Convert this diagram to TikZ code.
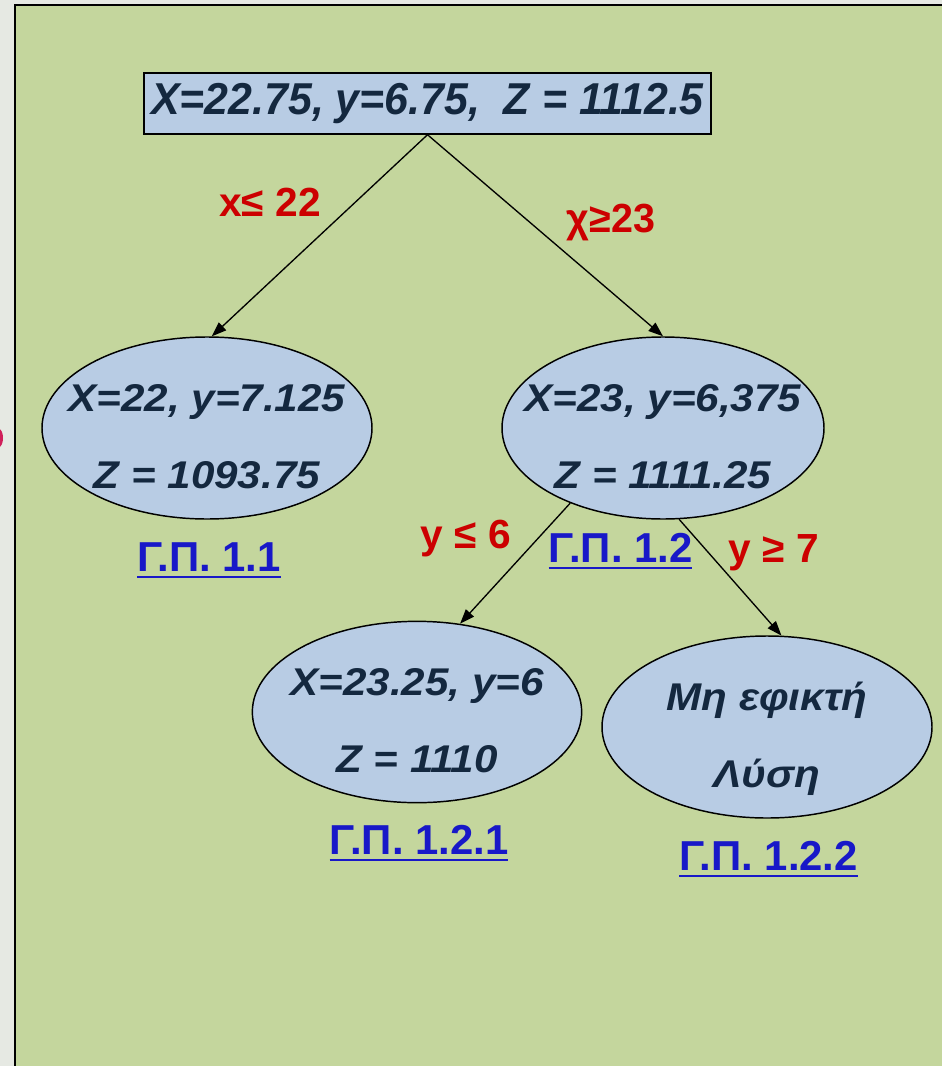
\documentclass[tikz,border=0pt]{standalone}
\usepackage{fontspec}
\setmainfont{Liberation Sans}
\usepackage{graphicx}
\usetikzlibrary{arrows.meta,shapes.geometric}

\definecolor{pagegray}{HTML}{E6E9E3}
\definecolor{panelgreen}{HTML}{C4D69D}
\definecolor{nodeblue}{HTML}{B8CCE4}
\definecolor{inkblue}{HTML}{14283F}
\definecolor{condred}{HTML}{CC0000}
\definecolor{linkblue}{HTML}{1818C8}
\definecolor{fragred}{HTML}{D0205A}

% horizontal stretch of a piece of text
\newcommand\hs[2]{\scalebox{#1}[1]{#2}}
% thick hyperlink-style underline
\newcommand\ulink[1]{\setbox0\hbox{#1}\rlap{\rule[-5.6pt]{\wd0}{2.2pt}}\box0}

\begin{document}
\begin{tikzpicture}[x=0.75pt,y=-0.75pt,
  oval/.style={ellipse, draw=black, line width=1.1pt, fill=nodeblue, inner sep=0pt},
  ovaltext/.style={align=center, inner sep=0pt, text=inkblue,
    font=\fontsize{29pt}{57.75pt}\selectfont\bfseries\itshape},
  cond/.style={text=condred, inner sep=0pt, anchor=base,
    font=\fontsize{30.5pt}{36pt}\selectfont\bfseries},
  gp/.style={text=linkblue, inner sep=0pt, anchor=base,
    font=\fontsize{31.4pt}{36pt}\selectfont\bfseries},
  link/.style={draw=black, line width=1pt, -{Triangle[length=11pt,width=8pt]}}]

\useasboundingbox (0,0) rectangle (942,1066);
\clip (0,0) rectangle (942,1066);

% page and panel
\fill[pagegray] (0,0) rectangle (942,1066);
\fill[fragred] (-1,438) ellipse [x radius=4, y radius=9];
\fill[panelgreen] (15,5) rectangle (942,1066);
\draw[black, line width=1.3pt] (15,1066) -- (15,5) -- (942,5);

% root problem
\node[draw=black, line width=1.1pt, fill=nodeblue, minimum width=425.25pt,
      minimum height=45.75pt, inner sep=0pt, text=inkblue,
      font=\fontsize{33.5pt}{40pt}\selectfont\bfseries\itshape]
  (root) at (427.5,103.5) {\hs{0.96}{X=22.75, y=6.75,\ \ Z = 1112.5}};

% subproblems
\node[oval, minimum width=247.5pt, minimum height=136.5pt] (e1) at (207,428) {};
\node[oval, minimum width=241.5pt, minimum height=136.5pt] (e2) at (663,428) {};
\node[oval, minimum width=247pt,   minimum height=136pt]   (e3) at (417,712) {};
\node[oval, minimum width=247.5pt, minimum height=136.5pt] (e4) at (767,727) {};

\node[ovaltext] (t1) at (e1.center)
  {\rule{0pt}{39.75pt}\hs{1.09}{X=22, y=7.125}\\\hs{1.09}{Z = 1093.75}\rule[-7.5pt]{0pt}{7.5pt}};
\node[ovaltext] (t2) at (e2.center)
  {\rule{0pt}{39.75pt}\hs{1.09}{X=23, y=6,375}\\\hs{1.09}{Z = 1111.25}\rule[-7.5pt]{0pt}{7.5pt}};
\node[ovaltext] (t3) at (e3.center)
  {\rule{0pt}{39.75pt}\hs{1.09}{X=23.25, y=6}\\\hs{1.09}{Z = 1110}\rule[-7.5pt]{0pt}{7.5pt}};
\node[ovaltext] (t4) at (e4.center)
  {\rule{0pt}{39.75pt}\hs{1.09}{Μη εφικτή}\\\hs{1.09}{Λύση}\rule[-7.5pt]{0pt}{7.5pt}};

% subproblem labels
\node[gp] (g1)   at (209,571)   {\ulink{Γ.Π. 1.1}};
\node[gp] (g2)   at (620.5,562) {\ulink{Γ.Π. 1.2}};
\node[gp] (g21)  at (419,854)   {\ulink{Γ.Π. 1.2.1}};
\node[gp] (g22)  at (768.5,870) {\ulink{Γ.Π. 1.2.2}};

% branching
\draw[link] (root.south) -- (e1.87);
\draw[link] (root.south) -- (e2.north);
\draw[link] (e2.219) -- (e3.64);
\draw[link] (e2.280) -- (e4.81);

% branching conditions
\node[cond] (c1) at (270,217) {x≤ 22};
\node[cond] (c2) at (611,233) {\hs{0.97}{χ≥23}};
\node[cond] (c3) at (466,548) {y ≤ 6};
\node[cond] (c4) at (774,562) {y ≥ 7};
\end{tikzpicture}
\end{document}
